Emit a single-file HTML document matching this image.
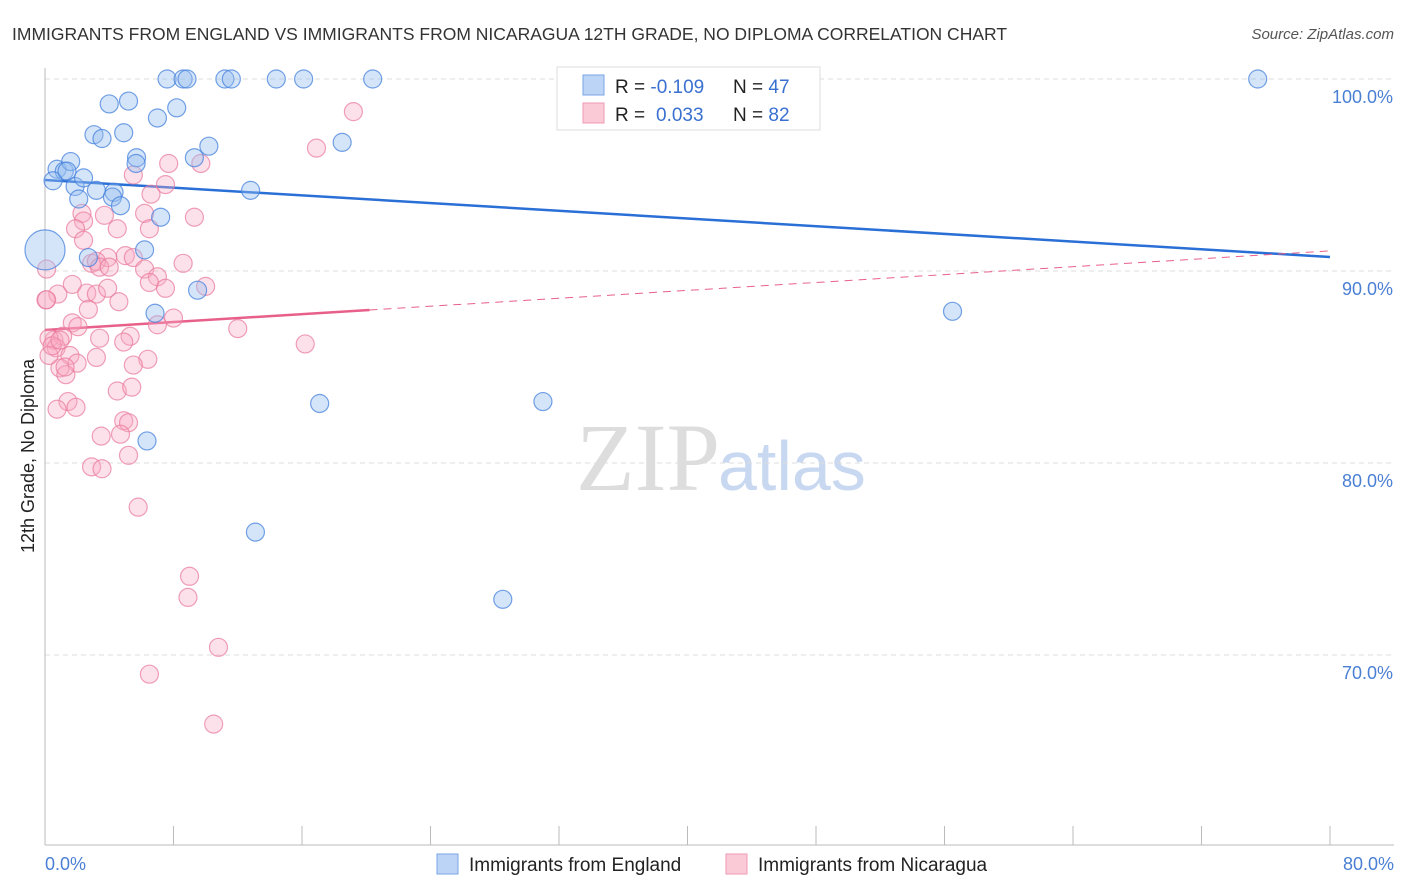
<!DOCTYPE html>
<html><head><meta charset="utf-8"><style>
body{margin:0;background:#fff;font-family:"Liberation Sans",sans-serif;}
#wrap{position:relative;width:1406px;height:892px;overflow:hidden;}
</style></head><body>
<div id="wrap">
<svg id="svg" width="1406" height="892" xmlns="http://www.w3.org/2000/svg">
<text x="12" y="40" font-size="17.5" fill="#333">IMMIGRANTS FROM ENGLAND VS IMMIGRANTS FROM NICARAGUA 12TH GRADE, NO DIPLOMA CORRELATION CHART</text>
<text x="1394" y="39" font-size="15" fill="#555" font-style="italic" text-anchor="end">Source: ZipAtlas.com</text>
<text x="720" y="490" font-size="96" fill="#ddd" text-anchor="end" font-family="Liberation Serif">ZIP</text>
<text x="718" y="490" font-size="70" fill="#c8d8f0">atlas</text>
<text transform="translate(34,456) rotate(-90)" font-size="18" fill="#222" text-anchor="middle">12th Grade, No Diploma</text>
<g id="grid"></g><g id="axes"></g><g id="lines"></g><g id="pts"></g>
<g>
<rect x="557" y="67" width="263" height="63" fill="#fff" stroke="#ddd"/>
<rect x="583" y="75" width="21" height="20" fill="#bcd4f5" stroke="#7aa6e6"/>
<rect x="583" y="103" width="21" height="20" fill="#fbcad7" stroke="#ee9ab2"/>
<text x="615" y="93" font-size="19" fill="#222">R = <tspan fill="#3a70d0">-0.109</tspan><tspan x="733">N = </tspan><tspan fill="#3a70d0">47</tspan></text>
<text x="615" y="121" font-size="19" fill="#222">R = <tspan fill="#3a70d0" x="656">0.033</tspan><tspan x="733">N = </tspan><tspan fill="#3a70d0">82</tspan></text>
</g>
<g>
<rect x="437" y="854" width="21" height="20" fill="#bcd4f5" stroke="#7aa6e6"/>
<text x="469" y="871" font-size="19" fill="#222">Immigrants from England</text>
<rect x="726" y="854" width="21" height="20" fill="#fbcad7" stroke="#ee9ab2"/>
<text x="758" y="871" font-size="19" fill="#222">Immigrants from Nicaragua</text>
</g>
</svg>
</div>
<script>
const yTicks=[100,90,80,70];
const xTickLabels=["0.0%","80.0%"];
const blueX=[7.6,8.6,8.84,11.2,11.6,14.4,16.1,20.4,33.0,75.5,4.0,5.2,8.2,7.0,3.05,4.9,3.55,10.2,18.5,9.3,5.7,5.67,0.75,1.2,1.6,0.5,1.87,2.4,3.2,4.3,2.1,4.2,4.7,7.2,12.8,0.0,2.7,6.2,9.5,6.85,56.5,17.1,31.0,6.35,13.1,28.5,1.37];
const blueY=[100,100,100,100,100,100,100,100,100,100,98.7,98.85,98.5,97.97,97.1,97.2,96.9,96.5,96.7,95.9,95.9,95.6,95.3,95.2,95.7,94.7,94.4,94.85,94.2,94.1,93.75,93.85,93.4,92.8,94.2,91.1,90.7,91.1,89.0,87.8,87.9,83.1,83.2,81.15,76.4,72.9,95.2];
const pinkX=[19.2,16.9,7.7,9.7,5.5,7.5,6.6,2.3,3.7,6.2,9.3,4.5,2.4,1.9,2.4,6.5,5.0,3.9,2.9,3.2,3.4,4.0,5.5,6.2,8.6,7.0,6.5,7.5,10.0,0.1,1.7,0.8,0.06,2.6,3.2,3.9,4.6,2.7,8.0,7.0,1.7,0.56,12.0,2.05,16.2,1.1,0.25,5.3,4.9,3.4,0.7,1.55,3.2,6.4,5.5,2.0,0.93,1.3,4.5,5.4,1.43,1.93,0.75,4.9,3.5,5.2,2.9,3.55,5.2,5.8,9.0,8.9,10.8,6.5,10.5,0.1,1.25,0.25,4.7,0.44,0.93];
const pinkY=[98.3,96.4,95.6,95.6,95.0,94.5,94.0,93.0,92.9,93.0,92.8,92.2,92.6,92.2,91.6,92.2,90.8,90.7,90.4,90.5,90.2,90.2,90.7,90.1,90.4,89.7,89.4,89.1,89.2,90.1,89.3,88.8,88.5,88.85,88.8,89.1,88.4,88.0,87.55,87.2,87.3,86.4,87.0,87.1,86.2,86.6,86.5,86.6,86.3,86.5,86.0,85.6,85.5,85.4,85.1,85.2,84.95,84.6,83.75,83.95,83.2,82.9,82.8,82.2,81.4,82.1,79.8,79.7,80.4,77.7,74.1,73.0,70.4,69.0,66.4,88.5,85.0,85.6,81.5,86.1,86.4];
const blueTrend=[94.74,90.73];
const pinkTrend=[86.93,91.05];
const pinkSolidEnd=20.2;
const NS="http://www.w3.org/2000/svg";
const sx=v=>45+v/80*1285;
const sy=v=>79+(100-v)*19.2;
function mk(tag,attrs,parent){const e=document.createElementNS(NS,tag);for(const k in attrs)e.setAttribute(k,attrs[k]);document.getElementById(parent).appendChild(e);return e;}
yTicks.forEach(t=>{
 const g=mk('line',{x1:45,x2:1394,y1:sy(t),y2:sy(t),stroke:'#ddd','stroke-dasharray':'5,4'},'grid');
 
 
 const l=mk('text',{x:1393,y:sy(t)+24,'font-size':18,fill:'#4a7fd4','text-anchor':'end'},'grid');
 l.textContent=t.toFixed(1)+'%';
 
 
});
const ax=mk('line',{x1:45,x2:1394,y1:845,y2:845,stroke:'#bbb'},'axes');


const ay=mk('line',{x1:45,x2:45,y1:68,y2:845,stroke:'#bbb'},'axes');


for(let i=0;i<=10;i++){
 const t=mk('line',{x1:sx(i*8),x2:sx(i*8),y1:826,y2:845,stroke:'#bbb'},'axes');
 
 
}
const xl0=mk('text',{x:45,y:870,'font-size':18,fill:'#4a7fd4'},'axes');
xl0.textContent=xTickLabels[0];


const xl1=mk('text',{x:1394,y:870,'font-size':18,fill:'#4a7fd4','text-anchor':'end'},'axes');
xl1.textContent=xTickLabels[1];


pinkX.forEach((x,i)=>{
 const c=mk('circle',{cx:sx(x),cy:sy(pinkY[i]),r:9,fill:'rgba(248,170,195,0.35)',stroke:'rgba(232,120,155,0.7)','stroke-width':1.2},'pts');
 
 
});
blueX.forEach((x,i)=>{
 const c=mk('circle',{cx:sx(x),cy:sy(blueY[i]),r:(i===35?20:9),fill:'rgba(150,190,240,0.4)',stroke:'rgba(70,130,220,0.75)','stroke-width':1.2},'pts');
 
 
});
const bl=mk('line',{x1:sx(0),y1:sy(blueTrend[0]),x2:sx(80),y2:sy(blueTrend[1]),stroke:'#2a6fd6','stroke-width':2.5},'lines');


const pEnd=pinkTrend[0]+(pinkTrend[1]-pinkTrend[0])*pinkSolidEnd/80;
const pl=mk('line',{x1:sx(0),y1:sy(pinkTrend[0]),x2:sx(pinkSolidEnd),y2:sy(pEnd),stroke:'#e8608a','stroke-width':2.5},'lines');


const pd=mk('line',{x1:sx(pinkSolidEnd),y1:sy(pEnd),x2:sx(80),y2:sy(pinkTrend[1]),stroke:'#e8608a','stroke-width':1,'stroke-dasharray':'8,6'},'lines');


</script>
</body></html>
